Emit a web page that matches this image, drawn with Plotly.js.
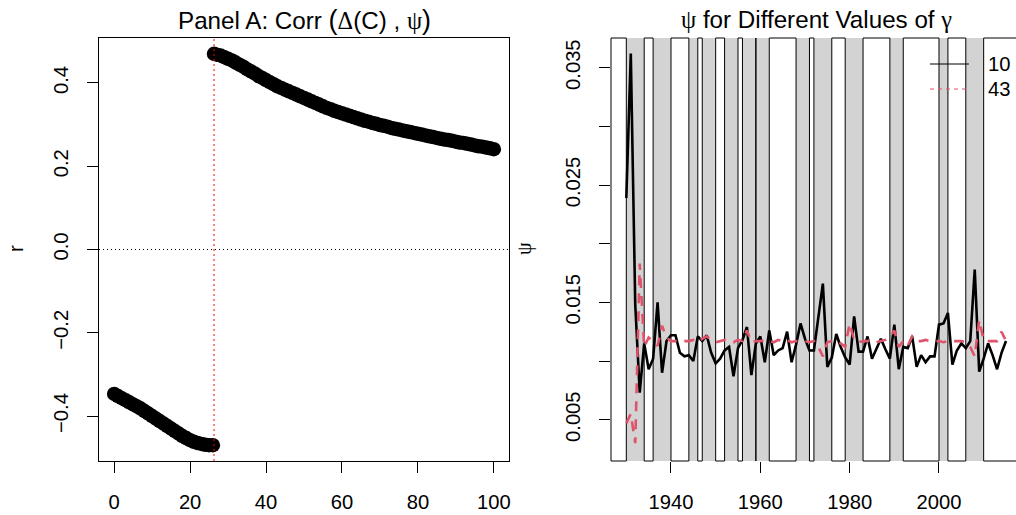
<!DOCTYPE html>
<html><head><meta charset="utf-8">
<script src="https://cdn.plot.ly/plotly-3.0.1.min.js"></script>
<style>html,body{margin:0;padding:0;background:#fff;overflow:hidden}#chart{width:1016px;height:515px}</style>
</head><body><div id="chart"></div>
<script>
// ---------- Panel A data: correlation r vs gamma ----------
const corrX = [0,1,2,3,4,5,6,7,8,9,10,11,12,13,14,15,16,17,18,19,20,21,22,23,24,25,26,
  26.3,27,28,29,30,31,32,33,34,35,36,37,38,39,40,41,42,43,44,45,46,47,48,49,50,
  51,52,53,54,55,56,57,58,59,60,61,62,63,64,65,66,67,68,69,70,71,72,73,74,75,
  76,77,78,79,80,81,82,83,84,85,86,87,88,89,90,91,92,93,94,95,96,97,98,99,100];
const corrY = [-0.347,-0.352,-0.357,-0.362,-0.367,-0.372,-0.377,-0.382,-0.388,-0.394,-0.400,
  -0.406,-0.412,-0.418,-0.424,-0.430,-0.436,-0.442,-0.448,-0.453,-0.458,-0.462,-0.465,-0.467,
  -0.469,-0.470,-0.470,
  0.470,0.468,0.466,0.462,0.458,0.454,0.449,0.444,0.439,0.433,0.428,0.423,0.417,0.412,0.407,
  0.402,0.397,0.392,0.388,0.384,0.380,0.376,0.372,0.368,0.364,0.360,0.356,0.352,0.348,0.344,
  0.340,0.337,0.333,0.330,0.327,0.324,0.321,0.318,0.315,0.312,0.309,0.307,0.304,0.302,0.299,
  0.297,0.295,0.292,0.290,0.288,0.286,0.284,0.282,0.280,0.278,0.276,0.274,0.272,0.270,0.268,
  0.266,0.264,0.263,0.261,0.259,0.257,0.256,0.254,0.252,0.250,0.248,0.247,0.245,0.243,0.241];
const breakX = 26.3;
const corrTicks = [0,20,40,60,80,100];
const corrYTicks = [-0.4,-0.2,0.0,0.2,0.4];

// ---------- Panel B data: psi by year for two gammas ----------
const years = [1930,1931,1932,1933,1934,1935,1936,1937,1938,1939,1940,1941,1942,1943,1944,1945,
  1946,1947,1948,1949,1950,1951,1952,1953,1954,1955,1956,1957,1958,1959,1960,1961,1962,1963,
  1964,1965,1966,1967,1968,1969,1970,1971,1972,1973,1974,1975,1976,1977,1978,1979,1980,1981,
  1982,1983,1984,1985,1986,1987,1988,1989,1990,1991,1992,1993,1994,1995,1996,1997,1998,1999,
  2000,2001,2002,2003,2004,2005,2006,2007,2008,2009,2010,2011,2012,2013,2014,2015];
const psiGamma10 = [0.0239,0.0362,0.0148,0.0073,0.0115,0.0093,0.0102,0.0150,0.0090,0.0117,
  0.0122,0.0122,0.0107,0.0104,0.0105,0.0100,0.0121,0.0117,0.0122,0.0107,
  0.0098,0.0102,0.0109,0.0112,0.0087,0.0111,0.0118,0.0129,0.0088,0.0115,
  0.0121,0.0099,0.0126,0.0105,0.0109,0.0111,0.0125,0.0099,0.0114,0.0132,
  0.0119,0.0109,0.0109,0.0137,0.0166,0.0095,0.0103,0.0123,0.0112,0.0103,
  0.0097,0.0138,0.0108,0.0108,0.0121,0.0102,0.0110,0.0119,0.0110,0.0102,
  0.0131,0.0093,0.0112,0.0111,0.0121,0.0095,0.0105,0.0099,0.0104,0.0104,
  0.0131,0.0132,0.0141,0.0097,0.0109,0.0115,0.0111,0.0117,0.0178,0.0091,
  0.0102,0.0115,0.0105,0.0093,0.0107,0.0117];
const psiGamma43 = [0.0047,0.0055,0.0030,0.0183,0.0112,0.0120,0.0117,0.0113,0.0130,0.0120,
  0.0117,0.0117,0.0116,0.0117,0.0117,0.0118,0.0116,0.0119,0.0121,0.0118,
  0.0116,0.0117,0.0118,0.0117,0.0116,0.0118,0.0117,0.0126,0.0116,0.0117,
  0.0117,0.0118,0.0117,0.0116,0.0118,0.0117,0.0118,0.0116,0.0117,0.0117,
  0.0117,0.0116,0.0117,0.0112,0.0104,0.0116,0.0117,0.0117,0.0115,0.0112,
  0.0132,0.0118,0.0116,0.0117,0.0117,0.0118,0.0116,0.0117,0.0118,0.0121,
  0.0126,0.0112,0.0117,0.0113,0.0121,0.0117,0.0117,0.0118,0.0117,0.0117,
  0.0117,0.0116,0.0117,0.0117,0.0117,0.0117,0.0116,0.0112,0.0104,0.0135,
  0.0118,0.0117,0.0117,0.0117,0.0125,0.0117];
const seriesNames = ['10','43'];
const recStart = [1930,1936,1944,1947,1952,1956,1959,1968,1972,1979,1989,2000,2006];
const recEnd   = [1934,1940,1946,1950,1955,1959,1962,1971,1976,1983,1992,2002,2010];
const yearTicks = [1940,1960,1980,2000];
const psiTicks = [0.005,0.010,0.015,0.020,0.025,0.030,0.035];
const psiTickText = ['0.005','','0.015','','0.025','','0.035'];

// ---------- layout helpers ----------
const W = 1016, H = 515;
const px = p => p / W;
const py = p => 1 - p / H;
const FONT = 'Liberation Sans, Arial, Helvetica, sans-serif';
const SERIF = 'Liberation Serif, DejaVu Serif, serif';
const FS = 20.2;
const TFS = 24.2;
const xR = [1926.57, 2017.24];

const traces = [
  {x: corrX, y: corrY, xaxis: 'x', yaxis: 'y', mode: 'markers', type: 'scatter',
   marker: {color: '#000', size: 14.5, line: {width: 0}}, showlegend: false, hoverinfo: 'skip'},
  {x: years, y: psiGamma10, xaxis: 'x2', yaxis: 'y2', mode: 'lines', type: 'scatter',
   line: {color: '#000', width: 2.6}, name: seriesNames[0], showlegend: false},
  {x: years, y: psiGamma43, xaxis: 'x2', yaxis: 'y2', mode: 'lines', type: 'scatter',
   line: {color: '#DF536B', width: 2.6, dash: '10px,8px'}, name: seriesNames[1], showlegend: false}
];

const shapes = [];
// panel A reference lines
shapes.push({type: 'line', xref: 'x domain', x0: 0, x1: 1, yref: 'y', y0: 0, y1: 0,
  line: {color: '#000', width: 1, dash: '1px,3px'}, layer: 'above'});
shapes.push({type: 'line', xref: 'x', x0: breakX, x1: breakX, yref: 'y domain', y0: 0, y1: 1,
  line: {color: '#FF0000', width: 1, dash: '2px,3px'}, layer: 'above'});

// panel B: recession shading and borders
let cur = xR[0];
const whiteSpans = [];
for (let i = 0; i < recStart.length; i++) {
  if (recStart[i] > cur) whiteSpans.push([cur, recStart[i]]);
  cur = Math.max(cur, recEnd[i]);
}
if (cur < xR[1]) whiteSpans.push([cur, xR[1]]);
whiteSpans.forEach(s => {
  [0, 1].forEach(yy => shapes.push({type: 'line', xref: 'x2', x0: s[0], x1: s[1],
    yref: 'y2 domain', y0: yy, y1: yy, line: {color: '#000', width: 1}, layer: 'below'}));
});
for (let i = 0; i < recStart.length; i++) {
  shapes.push({type: 'rect', xref: 'x2', x0: recStart[i], x1: recEnd[i], yref: 'y2 domain', y0: 0, y1: 1,
    fillcolor: '#D3D3D3', line: {width: 0}, layer: 'below'});
}
for (let i = 0; i < recStart.length; i++) {
  [recStart[i], recEnd[i]].forEach(v => shapes.push({type: 'line', xref: 'x2', x0: v, x1: v,
    yref: 'y2 domain', y0: 0, y1: 1, line: {color: '#000', width: 1}, layer: 'below'}));
}
shapes.push({type: 'line', xref: 'x2 domain', x0: 0, x1: 0, yref: 'y2 domain', y0: 0, y1: 1,
  line: {color: '#000', width: 1}, layer: 'below'});

// manual legend
shapes.push({type: 'line', xref: 'paper', yref: 'paper', x0: px(930), x1: px(969), y0: py(64), y1: py(64),
  line: {color: '#000', width: 1}});
shapes.push({type: 'line', xref: 'paper', yref: 'paper', x0: px(930), x1: px(969), y0: py(89), y1: py(89),
  line: {color: '#DF536B', width: 1, dash: '4px,4px'}});

const annotations = [
  {text: 'Panel A: Corr <span style="font-size:27px">(</span><span style="font-family:' + SERIF + '">Δ</span>(C) , <span style="font-family:' + SERIF + '">ψ</span><span style="font-size:27px">)</span>',
   xref: 'paper', yref: 'paper', x: px(304), y: py(20), xanchor: 'center', yanchor: 'middle',
   showarrow: false, font: {family: FONT, size: TFS, color: '#000'}},
  {text: '<span style="font-family:' + SERIF + '">ψ</span> for Different Values of <span style="font-family:' + SERIF + '">γ</span>',
   xref: 'paper', yref: 'paper', x: px(816), y: py(20), xanchor: 'center', yanchor: 'middle',
   showarrow: false, font: {family: FONT, size: TFS, color: '#000'}},
  {text: 'r', xref: 'paper', yref: 'paper', x: px(16), y: py(249), xanchor: 'center', yanchor: 'middle',
   textangle: -90, showarrow: false, font: {family: FONT, size: FS, color: '#000'}},
  {text: 'ψ', xref: 'paper', yref: 'paper', x: px(525), y: py(249), xanchor: 'center', yanchor: 'middle',
   textangle: -90, showarrow: false, font: {family: SERIF, size: FS, color: '#000'}},
  {text: seriesNames[0], xref: 'paper', yref: 'paper', x: px(986), y: py(64), xanchor: 'left', yanchor: 'middle',
   showarrow: false, font: {family: FONT, size: FS, color: '#000'}},
  {text: seriesNames[1], xref: 'paper', yref: 'paper', x: px(986), y: py(89), xanchor: 'left', yanchor: 'middle',
   showarrow: false, font: {family: FONT, size: FS, color: '#000'}}
];

const axBase = {showgrid: false, zeroline: false, ticks: 'outside', ticklen: 11, tickwidth: 1,
  tickcolor: '#000', tickfont: {family: FONT, size: FS, color: '#000'}, linecolor: '#000', linewidth: 1};

const layout = {
  width: W, height: H, margin: {l: 0, r: 0, t: 0, b: 0, pad: 0},
  paper_bgcolor: '#fff', plot_bgcolor: '#fff', showlegend: false,
  font: {family: FONT, color: '#000'},
  xaxis: Object.assign({}, axBase, {domain: [px(99), px(509)], range: [-4, 104], anchor: 'y',
    tickmode: 'array', tickvals: corrTicks, showline: true, mirror: true, ticklabelstandoff: 12}),
  yaxis: Object.assign({}, axBase, {domain: [py(461), py(38)], range: [-0.508, 0.508], anchor: 'x',
    tickmode: 'array', tickvals: corrYTicks, ticktext: corrYTicks.map(v => v === 0 ? '0.0' : (v < 0 ? '\u2212' : '') + Math.abs(v).toFixed(1)),
    tickangle: -90, showline: true, mirror: true, ticklabelstandoff: 11}),
  xaxis2: Object.assign({}, axBase, {domain: [px(611), 1], range: xR, anchor: 'y2',
    tickmode: 'array', tickvals: yearTicks, showline: false, ticklabelstandoff: 12}),
  yaxis2: Object.assign({}, axBase, {domain: [py(461), py(38)], range: [0.00148, 0.03753], anchor: 'x2',
    tickmode: 'array', tickvals: psiTicks, ticktext: psiTickText, tickangle: -90, showline: false, ticklabelstandoff: 11}),
  shapes: shapes,
  annotations: annotations
};

Plotly.newPlot('chart', traces, layout, {displayModeBar: false, staticPlot: true});
</script></body></html>
